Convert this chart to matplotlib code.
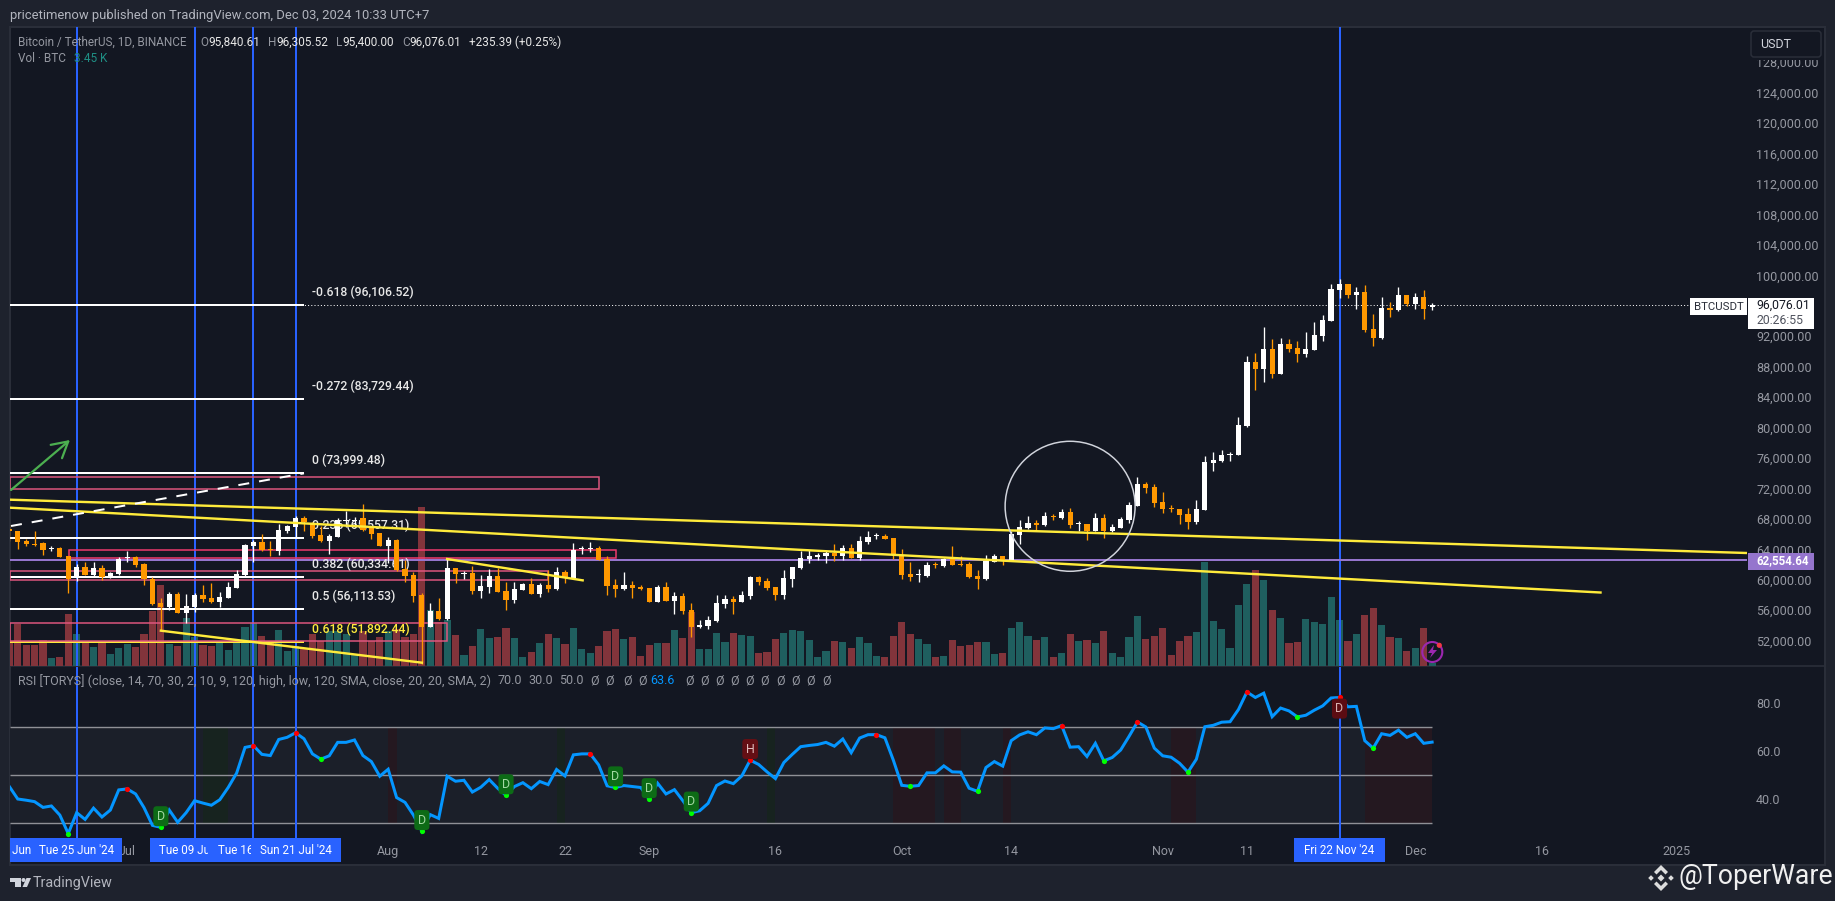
import numpy as np
import matplotlib
matplotlib.use("Agg")
import matplotlib.pyplot as plt
from matplotlib.patches import Rectangle, Ellipse, Circle, Polygon, FancyBboxPatch

W, H = 1835, 901
plt.rcParams['font.family'] = ['Roboto', 'DejaVu Sans']

# days counted from Tue 25 Jun 2024 (day 0), one candle per day
first_day = -8

opens = [66670, 66400, 65100, 64700, 64830, 64080, 64180, 63125, 60190, 61680,
         60630, 61550, 60320, 60800, 62800, 62950, 62070, 60100, 56900, 56425,
         58130, 55680, 56425, 58000, 57610, 57080, 57650, 58970, 60630, 64440,
         64960, 64010, 63830, 66410, 66940, 68120, 67500, 65890, 65100, 65670,
         67770, 67770, 68120, 66760, 66100, 64440, 65230, 61375, 60630, 58000,
         53840, 55900, 54850, 61510, 60800, 60890, 58530, 59050, 60500, 58530,
         57345, 58660, 59450, 58130, 59320, 58790, 61030, 60190, 64010, 64100,
         64180, 62730, 59320, 58790, 59320, 59050, 58920, 57080, 59050, 57210,
         57870, 56030, 53800, 53930, 54590, 56820, 57480, 57080, 57870, 60370,
         59840, 59050, 58000, 60100, 61550, 62730, 63060, 63125, 63520, 63125,
         64180, 62860, 64970, 65700, 65750, 65490, 63260, 60760, 60600, 60500,
         61950, 61820, 62735, 62100, 62080, 60500, 60110, 62340, 63130, 62470,
         65890, 66810, 67470, 67200, 68390, 68120, 68910, 67290, 67330, 66410,
         68120, 66410, 66810, 67860, 69700, 72590, 72200, 70230, 69400, 69300,
         68650, 67600, 69170, 75350, 75610, 76400, 76400, 80210, 88620, 87700,
         90325, 87040, 90980, 90460, 89670, 90190, 92030, 94000, 98080, 98865,
         97420, 97815, 92950, 91770, 95710, 95450, 97420, 96240, 97160, 95840.61]
highs = [67200, 66450, 65300, 66460, 65000, 64440, 64350, 63125, 62100, 62380,
         62340, 61950, 61020, 62950, 63780, 63170, 62160, 60320, 57565, 58350,
         58350, 58130, 58220, 59320, 59530, 58440, 59670, 61290, 64700, 65230,
         65970, 65100, 67290, 67200, 68380, 68380, 67640, 67070, 66020, 68080,
         69080, 68210, 69960, 66890, 66190, 65580, 65400, 62600, 61020, 58220,
         56900, 57565, 62820, 61510, 61160, 61810, 60630, 61380, 61510, 59710,
         59710, 59530, 60190, 59530, 61290, 61680, 61290, 64790, 64440, 64970,
         64440, 63125, 60100, 61030, 59840, 59270, 58920, 59270, 59710, 58400,
         58270, 56950, 54720, 55240, 58000, 58000, 57870, 58530, 60500, 60500,
         60240, 59050, 61290, 61680, 63780, 63915, 63520, 63830, 64700, 64570,
         64700, 65760, 66410, 66150, 66020, 65490, 64050, 62340, 61420, 62340,
         62340, 62870, 64440, 63130, 62380, 61290, 63260, 63390, 63130, 66370,
         67860, 68390, 67860, 68910, 68690, 69300, 69440, 67730, 67330, 68780,
         68650, 67330, 68250, 70230, 73510, 72850, 72590, 71540, 69830, 69300,
         69440, 70490, 76270, 76790, 77050, 76790, 81390, 89400, 89800, 93215,
         91640, 91770, 91640, 91375, 92560, 93870, 94790, 98865, 99520, 98865,
         98470, 98735, 94925, 97160, 96500, 98470, 97420, 97685, 98075, 96305.52]
lows = [65140, 64050, 64440, 64440, 63260, 63780, 63040, 58300, 59900, 60630,
        60500, 59970, 60240, 60670, 62380, 61680, 59320, 56690, 53400, 56030,
        55680, 54280, 55810, 57125, 56900, 56470, 57560, 58880, 60540, 62380,
        63830, 63170, 63260, 66190, 65670, 66455, 65450, 65010, 63390, 65580,
        66980, 66900, 66455, 65320, 64440, 62250, 61200, 59750, 57125, 49000,
        53750, 54720, 54720, 59530, 60100, 58130, 57650, 58220, 58400, 56030,
        57000, 58660, 58130, 57780, 58400, 58660, 59530, 60100, 63390, 63650,
        62600, 58000, 57700, 58660, 57610, 58660, 57080, 57080, 57210, 55500,
        55500, 52480, 53620, 53530, 54450, 56300, 55500, 57080, 57480, 59320,
        58660, 57345, 57480, 59050, 61420, 62210, 62600, 62210, 62470, 62600,
        62860, 62600, 64700, 65360, 65360, 62730, 60100, 59840, 59710, 60370,
        61550, 61680, 61950, 61820, 60240, 58790, 59980, 62340, 61950, 62470,
        64700, 66680, 66550, 67070, 67860, 67990, 66810, 66410, 65230, 66410,
        65500, 66280, 66810, 67470, 69700, 71410, 69570, 68780, 68910, 67330,
        66680, 67330, 69170, 74300, 75480, 75610, 76400, 80080, 84940, 85990,
        86510, 87040, 89930, 88615, 89270, 90190, 91375, 94000, 97025, 97025,
        95580, 92560, 90720, 91640, 94530, 95320, 95975, 95580, 94265, 95400]
closes = [66400, 65000, 64700, 64600, 63915, 64150, 63040, 60100, 61680, 60630,
          61550, 60320, 60890, 62730, 62950, 61940, 60060, 56780, 56470, 58130,
          55680, 56500, 58040, 57430, 57080, 57740, 59050, 60760, 64530, 64960,
          63915, 63915, 66540, 67070, 68160, 67590, 65760, 65100, 65760, 67860,
          67770, 67900, 66540, 65970, 64440, 65230, 61290, 60540, 57915, 53840,
          55940, 54850, 61510, 60720, 60890, 58530, 59185, 60500, 58400, 57345,
          58790, 59450, 58130, 59320, 58790, 61030, 60190, 63915, 64100, 64180,
          62600, 59230, 58790, 59320, 58920, 58790, 57080, 59050, 57210, 57870,
          55900, 53800, 54060, 54720, 56950, 57480, 57080, 58000, 60370, 59710,
          58920, 58000, 60240, 61680, 62860, 63125, 63300, 63520, 63125, 64180,
          62860, 65100, 65620, 65750, 65360, 63260, 60630, 60370, 60700, 61950,
          61900, 62735, 61950, 62000, 60370, 60110, 62470, 63130, 62470, 66020,
          66940, 67470, 67200, 68390, 68300, 68910, 67200, 67330, 66410, 68120,
          66410, 66940, 67990, 69830, 72590, 72060, 70100, 69300, 69300, 68520,
          67600, 69300, 75480, 75740, 76400, 76500, 80340, 88620, 87700, 90325,
          87040, 90980, 90325, 89670, 90325, 92165, 94135, 98200, 98865, 97420,
          97815, 92820, 91770, 95710, 95450, 97420, 96240, 97160, 95580, 96076.01]
# volume in thousands of BTC
volumes = [36, 62.5, 31.5, 31.5, 38.5, 12, 13.5, 78, 48, 37.5,
           28.5, 36, 18, 27, 33, 28.5, 48, 82.5, 121.5, 33,
           30, 72, 42.5, 31.5, 30, 34.5, 24, 34.5, 58.5, 64.5,
           45, 34.5, 54, 22.5, 30, 25, 48, 37.5, 52.5, 52.5,
           48, 17.5, 52.5, 37.5, 42.5, 52.5, 55, 42.5, 48, 238.5,
           84, 66, 69, 46.5, 16.5, 30, 55.5, 42, 43.5, 57,
           42, 13.5, 21, 34.5, 48, 42, 33, 57, 25.5, 19.5,
           30, 52.5, 55.5, 40.5, 43.5, 15, 31.5, 34.5, 34.5, 54,
           42, 81, 25.5, 25.5, 49.5, 36, 49.5, 46.5, 45, 19.5,
           21, 40.5, 49.5, 54, 52.5, 39, 13.5, 22.5, 37.5, 36,
           27, 43.5, 34.5, 15, 13.5, 45, 66, 48, 40.5, 33,
           13.5, 15, 39, 30, 31.5, 36, 36, 18, 19.5, 57,
           66, 45, 39, 43.5, 13.5, 19.5, 48, 37.5, 39, 34.5,
           52.5, 19.5, 13.5, 43.5, 75, 40.5, 45, 57, 16.5, 37.5,
           45, 51, 155, 67.5, 55.5, 27, 91.5, 123, 144, 129,
           84, 72, 34.5, 36, 70.5, 66, 63, 103.5, 69, 37.5,
           48, 76.5, 87, 61.5, 43.5, 42, 22.5, 27, 57, 3.45]
rsi = [45.2, 40, 39.5, 38.9, 36.5, 37.1, 33.3, 25.6, 34.3, 31.5,
       36.2, 32.5, 35.4, 43.8, 44.2, 42.1, 36.4, 29, 28.2, 35.4,
       30.3, 34.3, 39.3, 38.3, 37.4, 39.7, 44.8, 50.8, 61.5, 62.2,
       58.6, 58.1, 64.8, 65.7, 67.6, 65.1, 58.8, 56.6, 58, 63.6,
       63.6, 64.6, 58.1, 55.6, 49.5, 52.4, 40.6, 38.6, 33.3, 26.6,
       33.5, 31.9, 49.5, 47.4, 47.8, 42.9, 44.9, 48.1, 44.5, 41.5,
       45.2, 46.8, 44.3, 47.3, 46, 52.3, 49.6, 58.4, 58.8, 58.8,
       54.2, 45.5, 44.8, 45.6, 45.2, 44.8, 39.9, 46.6, 42.1, 43.9,
       39.3, 34.3, 35.1, 38.2, 45.6, 47.5, 46.4, 49.6, 56.2, 54.4,
       51.3, 48.5, 55.2, 58.6, 61.8, 62.3, 62.7, 63.6, 62, 65,
       59.3, 65.4, 66.8, 66.8, 65.5, 56.2, 45.7, 45.3, 45.6, 50.9,
       50.9, 53.8, 51.3, 51.2, 44.5, 43.2, 53.1, 55.6, 53.7, 64.3,
       66.7, 68, 66.8, 69.6, 69.3, 70.6, 61.6, 61.8, 57.7, 63.2,
       55.9, 57.3, 60.4, 66.1, 72.1, 70, 61.2, 58, 57.4, 54.9,
       51.2, 56.6, 70.1, 70.7, 72, 72.2, 77.3, 84.6, 82.3, 84.1,
       74.3, 77.9, 76.7, 74.2, 74.9, 77, 78.8, 82.1, 82.3, 78.4,
       78.6, 64.3, 61.2, 67.2, 66.5, 68.7, 65.7, 67.2, 63.2, 63.7]

rsi_peaks = [6, 21, 26, 61, 80, 95, 117, 126, 139, 150]
rsi_troughs = [-1, 10, 29, 41, 51, 64, 68, 73, 99, 107, 122, 132, 145, 154]
div_bull = [10, 41, 51, 64, 68, 73]
green_zones = [(15, 18), (57, 58), (82, 83)]
red_zones = [(37, 38), (97, 102), (103, 105), (110, 111), (130, 133), (153, 161)]

fib_levels = [96106.52, 83729.44, 73999.48, 65557.31, 60334.61, 56113.53, 51892.44]
fib_ratios = ["-0.618", "-0.272", "0", "0.236", "0.382", "0.5", "0.618"]

price_ticks = list(range(52000, 132000, 4000))
rsi_ticks = [40, 60, 80]
time_days = [6, 37, 48, 58, 68, 83, 98, 111, 129, 139, 159, 174, 190]
time_labels = ["Jul", "Aug", "12", "22", "Sep", "16", "Oct", "14", "Nov", "11", "Dec", "16", "2025"]
marked_days = [-8, 0, 14, 21, 26, 150]
marked_labels = ["Mon 17 Jun '24", "Tue 25 Jun '24", "Tue 09 Jul '24", "Tue 16 Jul '24",
                 "Sun 21 Jul '24", "Fri 22 Nov '24"]

BG = "#1e222d"
PANE = "#131722"
GREY = "#9598a1"
LIGHT = "#b2b5be"
BLUE = "#2962ff"
YELLOW = "#ffeb3b"
PX = 0.72

fig = plt.figure(figsize=(W / 100, H / 100), dpi=100, facecolor=BG)


def px_axes(x0, y0, x1, y1, z):
    ax = fig.add_axes([x0 / W, 1 - y1 / H, (x1 - x0) / W, (y1 - y0) / H], zorder=z)
    ax.patch.set_visible(False)
    for s in ax.spines.values():
        s.set_visible(False)
    return ax


days = np.arange(first_day, first_day + len(closes))
o, h, l, c = map(np.array, (opens, highs, lows, closes))
xlim = (-7.92, 198.4)

# pane background
bg = px_axes(0, 0, W, H, 0)
bg.set_xlim(0, W)
bg.set_ylim(H, 0)
bg.axis("off")
bg.add_patch(Rectangle((10, 27), 1815, 838, fc=PANE, ec="#2a2e39", lw=1.5))
bg.plot([10, 1825], [666, 666], color="#2a2e39", lw=1.2)

# volume
ax_vol = px_axes(10, 27, 1747, 665.5, 1)
up = c >= o
ax_vol.bar(days, volumes, width=0.85, color=np.where(up, "#1f5f5f", "#82343b"), zorder=2)
for d in marked_days[1:]:
    ax_vol.axvline(d, color=BLUE, lw=2 * PX, zorder=3)
ax_vol.set_xlim(*xlim)
ax_vol.set_ylim(0, 957.75)
ax_vol.set_xticks([])
ax_vol.set_yticks([])

# price
ax = px_axes(10, 27, 1747, 665.5, 2)
ax.set_xlim(*xlim)
ax.set_ylim(48740, 132632)
ax.set_xticks([])
ax.yaxis.tick_right()
ax.set_yticks(price_ticks)
ax.set_yticklabels([f"{p:,.2f}" for p in price_ticks])
ax.tick_params(axis="y", length=0, pad=6.5, labelsize=9, labelcolor=GREY)

for lev, r in zip(fib_levels, fib_ratios):
    col = YELLOW if r == "0.618" else "white"
    ax.hlines(lev, xlim[0], 27, color=col, lw=2 * PX, zorder=2)
    ax.annotate(f"{r} ({lev:,.2f})", (27.9, lev), xytext=(0, 9), textcoords="offset points",
                color=YELLOW if r == "0.618" else "#e8e8e8", fontsize=8.8, fontweight="medium",
                va="center", zorder=2.5)

ax.hlines(c[-1], xlim[0], 192, color="white", lw=1 * PX, linestyles=(0, (1, 2.2)), zorder=1.5)
ax.hlines(62554.64, xlim[0], xlim[1], color="#9575cd", lw=2 * PX, zorder=2)

for left, right, bottom, top_p, col in [(xlim[0], 62, 71886, 73463, "#e0567f"),
                                        (-0.9, 64.1, 62908, 63871, "#f23a6f"),
                                        (xlim[0], 56, 59929, 61112, "#e0567f"),
                                        (xlim[0], 44, 52001, 54279, "#e0567f")]:
    ax.add_patch(Rectangle((left, bottom), right - left, top_p - bottom, fc="none", ec=col, lw=1.5 * PX, zorder=2))

# candles
colors = np.where(up, "#ffffff", "#ff9800")
ax.vlines(days, l, h, color=colors, lw=0.95, zorder=3)
ax.bar(days, np.maximum(np.abs(c - o), 130), bottom=np.minimum(o, c), width=0.62, color=colors, zorder=3)

# drawings
for d0, p0, d1, p1 in [(-7.92, 70524, 198.4, 63520), (-7.92, 69474, 181, 58330),
                       (10, 53315, 41, 49110), (44, 62733, 60.1, 59929)]:
    ax.plot([d0, d1], [p0, p1], color=YELLOW, lw=2.4 * PX, zorder=4)
ax.plot([-7.8, 27], [67069, 73989], color="white", lw=2 * PX, ls=(0, (5.5, 5)), zorder=4)
ax.annotate("", xy=(-0.8, 78370), xytext=(-7.8, 71800),
            arrowprops=dict(arrowstyle="->,head_length=0.8,head_width=0.45", color="#4caf50",
                            lw=1.6, shrinkA=0, shrinkB=0, mutation_scale=14), zorder=4)
ax.add_patch(Ellipse((118, 69660), 15.44, 17080, fc="none", ec="#d1d4dc", lw=1.5 * PX, zorder=4))

# RSI
ax_r = px_axes(10, 667, 1747, 838, 2)
ax_r.set_xlim(*xlim)
ax_r.set_ylim(23.75, 95)
ax_r.set_xticks([])
ax_r.yaxis.tick_right()
ax_r.set_yticks(rsi_ticks)
ax_r.set_yticklabels([f"{v:.1f}" for v in rsi_ticks])
ax_r.tick_params(axis="y", length=0, pad=6.5, labelsize=9, labelcolor=GREY)
ax_r.fill_between([xlim[0], 161], 30, 70, color="#1b1f29", lw=0, zorder=1)
for a, b in green_zones:
    ax_r.fill_between([a, b], 30, 70, color="#17231f", lw=0, zorder=1.2)
for a, b in red_zones:
    ax_r.fill_between([a, b], 30, 70, color="#241820", lw=0, zorder=1.2)
ax_r.hlines([70, 50, 30], xlim[0], 161, color="#8f9096", lw=1.4 * PX, zorder=2)
for d in marked_days[1:]:
    ax_r.axvline(d, color=BLUE, lw=2 * PX, zorder=3)
rsi = np.array(rsi)
ax_r.plot(days, rsi, color="#0496ff", lw=3 * PX, zorder=4, solid_joinstyle="miter")
ax_r.scatter(rsi_peaks, rsi[np.array(rsi_peaks) - first_day], s=14, color="#ff0000", lw=0, zorder=5)
ax_r.scatter(rsi_troughs, rsi[np.array(rsi_troughs) - first_day], s=14, color="#00ff00", lw=0, zorder=5)


def tag(d, text, dy, fc, tc):
    ax_r.annotate(text, (d, rsi[d - first_day]), xytext=(0, dy), textcoords="offset points",
                  ha="center", va="center", color=tc, fontsize=9, zorder=6,
                  bbox=dict(boxstyle="round,pad=0.28", fc=fc, ec="none"))


for d in div_bull:
    tag(d, "D", 8, "#0d6b16", "#a3d8a3")
tag(80, "H", 8, "#640f14", "#e0bcbc")
tag(150, "D", -8, "#5c0c12", "#d9b3b3")

# time axis
ax_t = px_axes(10, 838, 1747, 865, 2)
ax_t.set_xlim(*xlim)
ax_t.set_ylim(0, 1)
ax_t.set_xticks([])
ax_t.set_yticks([])
for d, s in zip(time_days, time_labels):
    ax_t.text(d, 0.5, s, color=GREY, fontsize=9, ha="center", va="center", zorder=1)
for i, (d, s) in enumerate(zip(marked_days, marked_labels)):
    ax_t.add_patch(Rectangle((d - 5.35, 0.11), 10.7, 0.89, fc=BLUE, ec="none", zorder=2 + i))
    ax_t.text(d, 0.53, s, color="white", fontsize=8.4, ha="center", va="center", zorder=2.5 + i, clip_on=True)

# page furniture in pixel coordinates
top = px_axes(0, 0, W, H, 10)
top.set_xlim(0, W)
top.set_ylim(H, 0)
top.axis("off")


def txt(x, y, s, color=LIGHT, size=8.9, **kw):
    top.text(x, y, s, color=color, fontsize=size, va="center", **kw)


txt(10, 15, "pricetimenow published on TradingView.com, Dec 03, 2024 10:33 UTC+7", size=9.4)
txt(18, 42, "Bitcoin / TetherUS, 1D, BINANCE", GREY, 8.5)
for x, s in [(200, "O"), (268, "H"), (336, "L"), (402, "C")]:
    txt(x, 42, s, GREY, 8.5)
for x, s in [(208, "95,840.61"), (276, "96,305.52"), (342.5, "95,400.00"), (409, "96,076.01"),
             (469, "+235.39 (+0.25%)")]:
    txt(x, 42, s, "#e8e8e8", 8.5)
txt(18, 59, "Vol · BTC", GREY, 8.5)
txt(74, 59, "3.45 K", "#1f8f85", 8.5)

txt(18, 681, "RSI [TORYS] (close, 14, 70, 30, 2, 10, 9, 120, high, low, 120, SMA, close, 20, 20, SMA, 2)", GREY, 9)
for x, s in [(497, "70.0"), (528, "30.0"), (559, "50.0")]:
    txt(x, 681, s, GREY, 9)
for x in [590, 605, 623, 638, 685, 700, 715, 730, 745, 760, 776, 791, 806, 822]:
    txt(x, 681, "Ø", GREY, 9)
txt(650, 681, "63.6", "#0496ff", 9)

# currency box, it hides the top of the 128,000 label
top.add_patch(Rectangle((1748, 28), 76, 31.5, fc=PANE, ec="none"))
top.add_patch(FancyBboxPatch((1751, 31), 70, 26, boxstyle="round,pad=0,rounding_size=3", fc=PANE, ec="#2a2e39", lw=1.1))
txt(1760, 44.5, "USDT", "#d1d4dc", 9)

# last price tags
top.add_patch(Rectangle((1690, 298), 57, 17, fc="white", ec="none"))
txt(1694, 306.5, "BTCUSDT", "#2a2e39", 8.2)
top.add_patch(Rectangle((1748, 298), 66, 31, fc="white", ec="none"))
txt(1756, 305.5, "96,076.01", "#131722", 8.8)
txt(1756, 320, "20:26:55", "#50535e", 8.8)
top.add_patch(Rectangle((1748, 553), 66, 17, fc="#9575cd", ec="none"))
txt(1756, 561, "62,554.64", "white", 8.4, fontweight="bold")

# bolt badge on the last bar
top.add_patch(Circle((1432.3, 652), 10, fc="none", ec="#9c27b0", lw=1.5))
top.add_patch(Polygon([(1434, 645), (1428, 653), (1432, 653), (1430, 658), (1437, 650), (1433, 650)], fc="#9c27b0", ec="none"))
top.add_patch(Circle((1439.3, 645.3), 2.6, fc="#f23645", ec="none"))

# TradingView logo
top.add_patch(Polygon([(10, 878), (21, 878), (21, 887), (15, 887), (15, 882), (10, 882)], fc="#d1d4dc", ec="none"))
top.add_patch(Circle((23.5, 880), 2, fc="#d1d4dc", ec="none"))
top.add_patch(Polygon([(26.5, 878), (31, 878), (27, 887), (22.5, 887)], fc="#d1d4dc", ec="none"))
txt(33, 883, "TradingView", LIGHT, 10.4)

# watermark
wm = "#dcdcdc"
cx, cy = 1661, 878
top.add_patch(Polygon([(cx, cy - 3.5), (cx + 3.5, cy), (cx, cy + 3.5), (cx - 3.5, cy)], fc=wm, ec="none"))
for dx in (-10, 10):
    top.add_patch(Polygon([(cx + dx, cy - 2.8), (cx + dx + 2.8, cy), (cx + dx, cy + 2.8), (cx + dx - 2.8, cy)], fc=wm, ec="none"))
top.add_patch(Polygon([(cx, cy - 13), (cx + 7, cy - 6), (cx + 4.5, cy - 3.5), (cx, cy - 8), (cx - 4.5, cy - 3.5), (cx - 7, cy - 6)], fc=wm, ec="none"))
top.add_patch(Polygon([(cx, cy + 13), (cx + 7, cy + 6), (cx + 4.5, cy + 3.5), (cx, cy + 8), (cx - 4.5, cy + 3.5), (cx - 7, cy + 6)], fc=wm, ec="none"))
txt(1678, 877, "@ToperWare", "#f0f0f0", 19.2)

fig.savefig("out.png", dpi=100, facecolor=BG)
